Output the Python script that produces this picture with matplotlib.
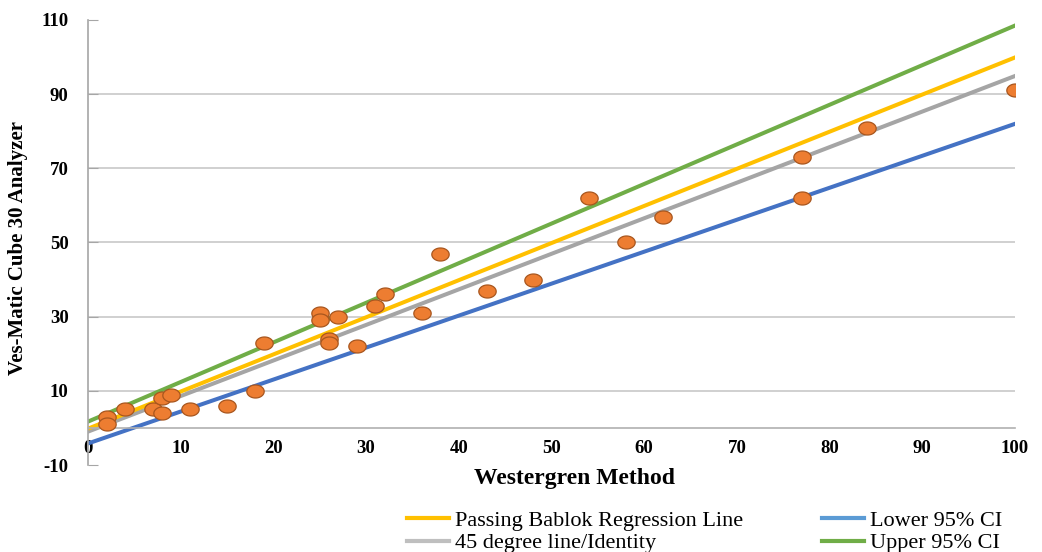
import numpy as np
import matplotlib.pyplot as plt
from matplotlib.path import Path
from matplotlib.lines import Line2D

plt.rcParams['font.family'] = ['Liberation Serif', 'DejaVu Serif']
plt.rcParams['axes.unicode_minus'] = False

# paired measurements (mm/hr)
westergren = [2, 2, 4, 7, 8, 8, 9, 11, 15, 18, 19, 25, 25, 26, 26, 27, 29, 31,
              32, 36, 38, 43, 48, 54, 58, 62, 77, 77, 84, 100]
vesmatic = [3, 1, 5, 5, 4, 8, 9, 5, 6, 10, 23, 31, 29, 24, 23, 30, 22, 33,
            36, 31, 47, 37, 40, 62, 50, 57, 73, 62, 81, 91]

# fitted lines, evaluated at the ends of the x range
line_x = [0, 100]
pb_line = [-0.2, 99.9]
identity_line = [-1.0, 94.9]
lower_ci = [-4.2, 82.0]
upper_ci = [1.7, 108.5]

x_ticks = list(range(0, 101, 10))
y_ticks = list(range(-10, 111, 20))

W, H = 1042, 552
fig = plt.figure(figsize=(W / 100, H / 100), dpi=100)
ax = fig.add_axes([88 / W, 1 - 465 / H, 927 / W, 445 / H])

ax.set_xlim(0, 100)
ax.set_ylim(-10, 110)
ax.set_xticks(x_ticks)
ax.set_yticks(y_ticks)

# horizontal gridlines between the end ticks
for v in y_ticks[1:-1]:
    ax.axhline(v, color='#C4C4C4', lw=1.1, zorder=1)

ax.plot(line_x, upper_ci, color='#70AD47', lw=2.9, zorder=2)
ax.plot(line_x, lower_ci, color='#4472C4', lw=2.9, zorder=2)
ax.plot(line_x, identity_line, color='#A5A5A5', lw=2.9, zorder=2)
ax.plot(line_x, pb_line, color='#FFC000', lw=2.9, zorder=2)

# slightly flattened round marker
t = np.linspace(0, 2 * np.pi, 61)
ellipse = Path(np.column_stack([np.cos(t), 0.75 * np.sin(t)]), closed=True)
ax.plot(westergren, vesmatic, linestyle='none', marker=ellipse, ms=12.5,
        mfc='#ED7D31', mec='#A8561E', mew=0.9, zorder=4)

for s in ['top', 'right']:
    ax.spines[s].set_visible(False)
ax.spines['left'].set_color('#A6A6A6')
ax.spines['left'].set_linewidth(1.2)
ax.spines['bottom'].set_position(('data', 0))
ax.spines['bottom'].set_color('#B0B0B0')
ax.spines['bottom'].set_linewidth(1.2)

ax.tick_params(axis='x', length=0, pad=9, labelsize=13.5)
ax.tick_params(axis='y', direction='in', length=7, color='#A6A6A6', pad=14, labelsize=13.5)
for lab in ax.get_xticklabels() + ax.get_yticklabels():
    lab.set_fontweight('bold')

ax.text(0.525, -0.03, 'Westergren Method', transform=ax.transAxes,
        ha='center', va='center', fontsize=17, fontweight='bold')
ax.text(-0.0755, 0.488, 'Ves-Matic Cube 30 Analyzer', transform=ax.transAxes,
        ha='center', va='center', rotation=90, fontsize=15, fontweight='bold')

handles = [Line2D([], [], color='#FFC000', lw=3),
           Line2D([], [], color='#BFBFBF', lw=3),
           Line2D([], [], color='#5B9BD5', lw=3),
           Line2D([], [], color='#70AD47', lw=3)]
labels = ['Passing Bablok Regression Line', '45 degree line/Identity',
          'Lower 95% CI', 'Upper 95% CI']
fig.legend(handles, labels, loc='upper left', bbox_to_anchor=(407 / W, 1 - 510 / H),
           ncol=2, frameon=False, fontsize=16, handlelength=1.9, handletextpad=0.27,
           columnspacing=3.55, borderpad=0, borderaxespad=0, labelspacing=0.1)

fig.savefig('out.png', dpi=100)
